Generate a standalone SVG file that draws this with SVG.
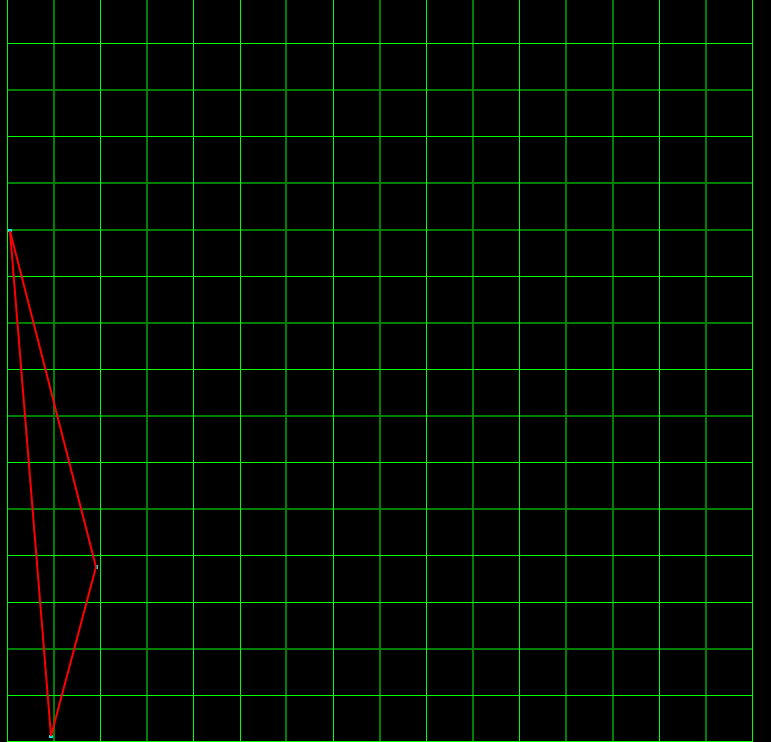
<svg xmlns="http://www.w3.org/2000/svg" width="771" height="742" viewBox="0 0 771 742">
<style>
.b{stroke:#00ff00;stroke-width:1;fill:none}
.d{stroke:#008000;stroke-width:2;fill:none}
.edge{stroke:#ff0000;stroke-width:2;fill:none;stroke-linejoin:round}
.pt{fill:#00e5e5;stroke:none}
</style>
<rect x="0" y="0" width="771" height="742" fill="#000000"/>
<g id="grid">
<g id="grid-dark">
<path class="d" d="M54 0V742M147 0V742M286 0V742M380 0V742M473 0V742M566 0V742M613 0V742M706 0V742"/>
<path class="d" d="M7 90H752M7 183H752M7 230H752M7 323H752M7 416H752M7 509H752M7 649H752"/>
</g>
<g id="grid-bright">
<path class="b" d="M7.5 0V742M100.5 0V742M193.5 0V742M240.5 0V742M333.5 0V742M426.5 0V742M519.5 0V742M659.5 0V742M752.5 0V742"/>
<path class="b" d="M7 43.5H753M7 136.5H753M7 276.5H753M7 369.5H753M7 462.5H753M7 555.5H753M7 602.5H753M7 695.5H753M7 741.5H753"/>
</g>
</g>
<g id="vertices">
<g id="vA"><rect class="pt" x="8" y="229" width="4" height="3"/></g>
<g id="vB"><rect class="pt" x="95" y="565" width="3" height="4"/></g>
<g id="vC"><rect class="pt" x="49" y="735" width="4" height="3"/></g>
</g>
<g id="connectors">
<path class="edge" d="M10 231L96 567"/>
<path class="edge" d="M96 567L51 736"/>
<path class="edge" d="M51 736L10 231"/>
</g>
</svg>
